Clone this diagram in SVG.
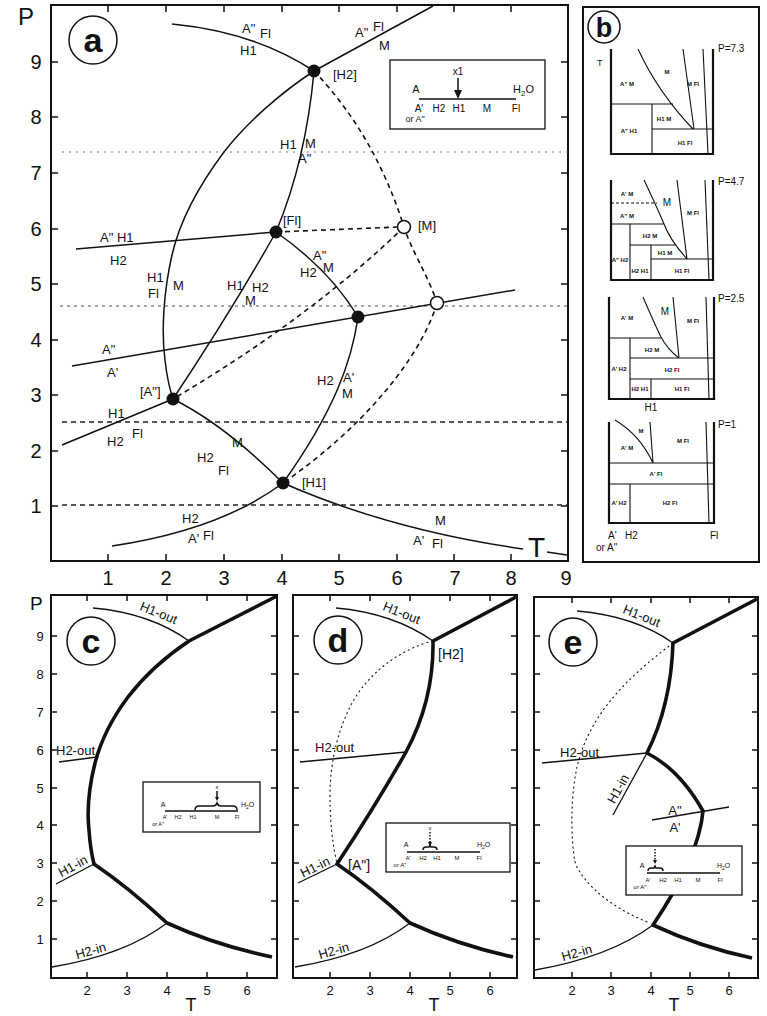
<svg xmlns="http://www.w3.org/2000/svg" width="767" height="1016" viewBox="0 0 767 1016">
<defs>
<style>
.t{font-family:"Liberation Sans",Arial,sans-serif;fill:#111}
.lb{font-size:13px}
.ax{font-size:20px}
.axs{font-size:13px}
.big{font-size:18px}
.ins{font-size:10px}
.ins6{font-size:6px}
.bs{font-size:6px;font-weight:bold}
.bp{font-size:10px}
.cl{font-size:34px;font-weight:bold;text-anchor:middle}
.mid{text-anchor:middle}
.fr{fill:none;stroke:#111;stroke-width:2}
.tk{fill:none;stroke:#111;stroke-width:1.5}
.ln{fill:none;stroke:#111;stroke-width:1.5}
.thk{fill:none;stroke:#111;stroke-width:3.6;stroke-linejoin:round}
.thn{fill:none;stroke:#111;stroke-width:1.3}
.dsh{fill:none;stroke:#111;stroke-width:1.6;stroke-dasharray:5 4}
.dot{fill:none;stroke:#111;stroke-width:1.1;stroke-dasharray:2 3}
.hd1{fill:none;stroke:#777;stroke-width:1;stroke-dasharray:2 5}
.hd2{fill:none;stroke:#555;stroke-width:1;stroke-dasharray:3 4}
.hd3{fill:none;stroke:#222;stroke-width:1.3;stroke-dasharray:5 4}
.wall{fill:none;stroke:#111;stroke-width:2.2}
.bl{fill:none;stroke:#111;stroke-width:1.1}
.box{fill:#fff;stroke:#111;stroke-width:1.3}
.pt{fill:#111}
.op{fill:#fff;stroke:#111;stroke-width:1.5}
</style>
</defs>
<rect width="767" height="1016" fill="#fff"/>

<!-- ================= PANEL A ================= -->
<g id="panel-a">
<rect class="fr" x="51" y="5" width="517" height="556"/>
<path class="tk" d="M51,506h7M51,451h7M51,395h7M51,340h7M51,284h7M51,229h7M51,173h7M51,117h7M51,62h7
M568,506h-7M568,451h-7M568,395h-7M568,340h-7M568,284h-7M568,229h-7M568,173h-7M568,117h-7M568,62h-7
M108,5v7M166,5v7M224,5v7M282,5v7M339,5v7M397,5v7M454,5v7M511,5v7
M108,561v-7M166,561v-7M224,561v-7M282,561v-7M339,561v-7M397,561v-7M454,561v-7M511,561v-7"/>
<text class="t" x="18" y="25" font-size="24">P</text>
<g class="t ax mid">
<text x="36" y="513">1</text><text x="36" y="458">2</text><text x="36" y="402">3</text><text x="36" y="347">4</text><text x="36" y="291">5</text><text x="36" y="236">6</text><text x="36" y="180">7</text><text x="36" y="124">8</text><text x="36" y="69">9</text>
<text x="108" y="585">1</text><text x="166" y="585">2</text><text x="224" y="585">3</text><text x="282" y="585">4</text><text x="339" y="585">5</text><text x="397" y="585">6</text><text x="455" y="585">7</text><text x="511" y="585">8</text><text x="566" y="585">9</text>
</g>
<circle cx="93" cy="40" r="24" fill="none" stroke="#111" stroke-width="1.5"/>
<text class="t cl" x="93" y="52">a</text>

<!-- isobars -->
<path class="hd1" d="M62,152H568"/>
<path class="hd2" d="M60,306H568"/>
<path class="hd3" d="M62,422H568"/>
<path class="hd3" d="M62,505H568"/>

<g id="connectors-a">
<path class="ln" d="M172,24 Q255,32 314,71"/>
<path class="ln" d="M314,71 L433,6"/>
<path class="ln" d="M314,71 C282,92 247,122 224,152 C200,184 180,220 172,255 C164,290 161,330 165,360 C167,378 170,390 173,399"/>
<path class="ln" d="M314,71 Q306,160 276,232"/>
<path class="ln" d="M76,249 L276,232"/>
<path class="ln" d="M276,232 Q232,310 173,399"/>
<path class="ln" d="M276,232 Q330,270 358,317"/>
<path class="ln" d="M72,366 L515,290"/>
<path class="ln" d="M358,317 C352,360 335,410 283,483"/>
<path class="ln" d="M62,445 L173,399"/>
<path class="ln" d="M173,399 Q225,425 283,483"/>
<path class="ln" d="M112,546 Q220,530 283,483"/>
<path class="ln" d="M283,483 Q390,530 523,549"/>
<path class="ln" d="M547,552 L567,555"/>
<path class="dsh" d="M314,71 Q375,135 404,227 C412,252 428,275 437,303"/>
<path class="dsh" d="M437,303 C420,360 360,430 283,483"/>
<path class="dsh" d="M276,232 L398,227"/>
<path class="dsh" d="M404,227 Q310,318 173,399"/>
</g>

<g id="nodes-a">
<g id="node-H2"><circle class="pt" cx="314" cy="71" r="6.5"/></g>
<g id="node-Fl"><circle class="pt" cx="276" cy="232" r="6.5"/></g>
<g id="node-M"><circle class="op" cx="404" cy="227" r="6.5"/></g>
<g id="node-open2"><circle class="op" cx="437" cy="303" r="6.5"/></g>
<g id="node-c"><circle class="pt" cx="358" cy="317" r="6.5"/></g>
<g id="node-A2"><circle class="pt" cx="173" cy="399" r="6.5"/></g>
<g id="node-H1"><circle class="pt" cx="283" cy="483" r="6.5"/></g>
</g>

<g class="t lb">
<text x="242" y="33">A"</text><text x="260" y="38">Fl</text>
<text x="240" y="55">H1</text>
<text x="355" y="37">A"</text><text x="373" y="31">Fl</text><text x="379" y="50">M</text>
<text x="333" y="79">[H2]</text>
<text x="280" y="149">H1</text><text x="305" y="148">M</text><text x="298" y="163">A"</text>
<text x="283" y="225">[Fl]</text>
<text x="418" y="230">[M]</text>
<text x="100" y="242">A" H1</text><text x="110" y="265">H2</text>
<text x="147" y="282">H1</text><text x="173" y="290">M</text><text x="148" y="298">Fl</text>
<text x="227" y="290">H1</text><text x="252" y="292">H2</text><text x="245" y="305">M</text>
<text x="313" y="260">A"</text><text x="323" y="272">M</text><text x="300" y="277">H2</text>
<text x="102" y="354">A"</text><text x="107" y="377">A'</text>
<text x="140" y="396">[A"]</text>
<text x="317" y="385">H2</text><text x="343" y="382">A'</text><text x="342" y="398">M</text>
<text x="108" y="418">H1</text><text x="132" y="438">Fl</text><text x="107" y="446">H2</text>
<text x="232" y="447">M</text><text x="197" y="462">H2</text><text x="218" y="475">Fl</text>
<text x="302" y="487">[H1]</text>
<text x="182" y="523">H2</text><text x="188" y="543">A'</text><text x="203" y="540">Fl</text>
<text x="435" y="525">M</text><text x="413" y="545">A'</text><text x="432" y="548">Fl</text>
</g>
<text class="t" x="528" y="557" font-size="28">T</text>

<g id="inset-a">
<rect class="box" x="390" y="60" width="155" height="69"/>
<text class="t mid" x="458" y="75" font-size="10">x1</text>
<path class="ln" d="M458,78 V92" stroke-width="1.2"/>
<polygon class="pt" points="454,90 462,90 458,99"/>
<text class="t mid" x="416" y="93" font-size="11">A</text>
<path class="ln" d="M419,99 H516" stroke-width="1.2"/>
<text class="t" x="513" y="93" font-size="11">H<tspan dy="3" font-size="8">2</tspan><tspan dy="-3">O</tspan></text>
<g class="t mid ins">
<text x="419" y="112">A'</text><text x="439" y="112">H2</text><text x="459" y="112">H1</text><text x="487" y="112">M</text><text x="516" y="112">Fl</text>
<text x="415" y="122" font-size="9">or A"</text>
</g>
</g>
</g>

<!-- ================= PANEL B ================= -->
<g id="panel-b">
<rect class="fr" x="583" y="7" width="176" height="555"/>
<circle cx="604" cy="27" r="16" fill="none" stroke="#111" stroke-width="1.5"/>
<text class="t mid" x="604" y="37" font-size="27" font-weight="bold">b</text>
<text class="t" x="597" y="66" font-size="9">T</text>

<g id="b-sub1">
<path class="wall" d="M611,49V154H713V49"/>
<path class="bl" d="M638,49 C650,75 670,105 693,129 M683,49 L694,129 M703,49 L708,154 M611,104 H673 M652,104 V154 M652,129 H713"/>
<text class="t bp" x="718" y="52">P=7.3</text>
<g class="t bs mid">
<text x="627" y="86">A" M</text><text x="667" y="74">M</text><text x="693" y="86">M Fl</text>
<text x="664" y="121">H1 M</text><text x="629" y="133">A" H1</text><text x="685" y="145">H1 Fl</text>
</g>
</g>

<g id="b-sub2">
<path class="wall" d="M611,180V280H713V180"/>
<path class="bl" d="M644,180 Q656,205 664,224 Q670,240 687,259 M677,180 L687,259 M705,180 L709,280 M611,224 H664 M630,224 V280 M630,245 H675 M651,245 V280 M651,259 H713"/>
<path class="bl" d="M611,203 H657" stroke-dasharray="3 2"/>
<text class="t bp" x="718" y="185">P=4.7</text>
<text class="t mid" x="667" y="206" font-size="10">M</text>
<g class="t bs mid">
<text x="627" y="196">A' M</text><text x="627" y="218">A" M</text><text x="693" y="215">M Fl</text>
<text x="650" y="238">H2 M</text><text x="665" y="255">H1 M</text>
<text x="620" y="262">A" H2</text><text x="640" y="273">H2 H1</text><text x="682" y="273">H1 Fl</text>
</g>
</g>

<g id="b-sub3">
<path class="wall" d="M609,297V399H714V297"/>
<path class="bl" d="M643,297 Q655,325 661,337 Q668,350 679,358 M673,297 L679,358 M706,297 L709,399 M609,338 H661 M630,338 V399 M630,358 H714 M630,379 H714 M651,379 V399"/>
<text class="t bp" x="718" y="302">P=2.5</text>
<text class="t mid" x="665" y="315" font-size="10">M</text>
<g class="t bs mid">
<text x="627" y="320">A' M</text><text x="693" y="323">M Fl</text>
<text x="652" y="352">H2 M</text><text x="619" y="371">A' H2</text><text x="672" y="372">H2 Fl</text>
<text x="640" y="391">H2 H1</text><text x="682" y="391">H1 Fl</text>
</g>
<text class="t mid" x="651" y="411" font-size="10">H1</text>
</g>

<g id="b-sub4">
<path class="wall" d="M609,422V523H714V422"/>
<path class="bl" d="M615,420 Q640,435 653,463 M650,422 L653,463 M706,422 L709,523 M609,463 H714 M609,484 H714 M630,484 V523"/>
<text class="t bp" x="718" y="428">P=1</text>
<g class="t bs mid">
<text x="641" y="433">M</text><text x="627" y="450">A' M</text><text x="683" y="443">M Fl</text>
<text x="656" y="476">A' Fl</text><text x="619" y="505">A' H2</text><text x="670" y="505">H2 Fl</text>
</g>
<g class="t" font-size="10">
<text x="608" y="539">A'</text><text x="625" y="539">H2</text><text x="710" y="539">Fl</text>
<text x="596" y="551">or A"</text>
</g>
</g>
</g>

<!-- ================= PANEL C ================= -->
<g id="panel-c">
<rect class="fr" x="51" y="595" width="226" height="383"/>
<path class="tk" d="M51,939h6M51,901h6M51,863h6M51,825h6M51,788h6M51,750h6M51,712h6M51,674h6M51,636h6
M277,939h-6M277,901h-6M277,863h-6M277,825h-6M277,788h-6M277,750h-6M277,712h-6M277,674h-6M277,636h-6
M87,595v6M127,595v6M167,595v6M207,595v6M247,595v6M87,978v-6M127,978v-6M167,978v-6M207,978v-6M247,978v-6"/>
<text class="t" x="30" y="610" font-size="19">P</text>
<g class="t axs mid">
<text x="40" y="944">1</text><text x="40" y="906">2</text><text x="40" y="868">3</text><text x="40" y="830">4</text><text x="40" y="793">5</text><text x="40" y="755">6</text><text x="40" y="717">7</text><text x="40" y="679">8</text><text x="40" y="641">9</text>
<text x="87" y="995">2</text><text x="127" y="995">3</text><text x="167" y="995">4</text><text x="207" y="995">5</text><text x="247" y="995">6</text>
</g>
<text class="t big mid" x="191" y="1011">T</text>
<circle cx="91" cy="641" r="24" fill="none" stroke="#111" stroke-width="1.5"/>
<text class="t cl" x="91" y="653">c</text>
<g id="connectors-c">
<path class="thk" d="M277,596 L189,641 C168,655 145,675 128,697 C113,717 101,740 95,763 C89,787 87,812 89,830 C90,845 92,856 94,864 Q128,887 167,923 Q215,945 272,957"/>
<path class="thn" d="M93,608 Q150,613 189,641"/>
<path class="thn" d="M59,762 L97,757"/>
<path class="thn" d="M56,884 L94,864"/>
<path class="thn" d="M52,967 Q125,955 167,923"/>
</g>
<g class="t lb">
<text class="mid" transform="translate(157,617) rotate(22)">H1-out</text>
<text x="56" y="755">H2-out</text>
<text class="mid" transform="translate(75,870) rotate(-28)">H1-in</text>
<text class="mid" transform="translate(92,955) rotate(-16)">H2-in</text>
</g>
<g id="inset-c">
<rect class="box" x="143" y="782" width="117" height="50"/>
<text class="t mid ins6" x="217" y="789">x</text>
<path class="ln" d="M217,791 V798" stroke-width="0.9"/>
<polygon class="pt" points="215,797 219,797 217,801"/>
<path class="ln" stroke-width="0.8" d="M195,810 Q195,806 199,806 L213,806 Q216,806 217,803 Q218,806 221,806 L233,806 Q237,806 237,810"/>
<text class="t mid" x="163" y="807" font-size="7">A</text>
<path class="ln" d="M165,811 H238" stroke-width="1"/>
<text class="t" x="241" y="807" font-size="7">H<tspan dy="2" font-size="5">2</tspan><tspan dy="-2">O</tspan></text>
<g class="t mid" font-size="5.5">
<text x="165" y="819">A'</text><text x="178" y="819">H2</text><text x="193" y="819">H1</text><text x="217" y="819">M</text><text x="237" y="819">Fl</text>
<text x="158" y="826">or A"</text>
</g>
</g>
</g>

<!-- ================= PANEL D ================= -->
<g id="panel-d">
<rect class="fr" x="293" y="595" width="224" height="383"/>
<path class="tk" d="M293,939h6M293,901h6M293,863h6M293,825h6M293,788h6M293,750h6M293,712h6M293,674h6M293,636h6
M517,939h-6M517,901h-6M517,863h-6M517,825h-6M517,788h-6M517,750h-6M517,712h-6M517,674h-6M517,636h-6
M330,595v6M370,595v6M410,595v6M450,595v6M490,595v6M330,978v-6M370,978v-6M410,978v-6M450,978v-6M490,978v-6"/>
<g class="t axs mid">
<text x="330" y="995">2</text><text x="370" y="995">3</text><text x="410" y="995">4</text><text x="450" y="995">5</text><text x="490" y="995">6</text>
</g>
<text class="t big mid" x="434" y="1011">T</text>
<circle cx="338" cy="640" r="24" fill="none" stroke="#111" stroke-width="1.5"/>
<text class="t cl" x="338" y="652">d</text>
<g id="connectors-d">
<path class="dot" d="M433,641 C403,648 368,672 351,705 C339,728 330,760 330,795 C330,830 334,850 337,864"/>
<path class="thk" d="M516,597 L433,641 Q434,700 406,752 Q376,805 337,864 Q371,887 410,923 Q458,945 513,957"/>
<path class="thn" d="M336,608 Q393,613 433,641"/>
<path class="thn" d="M300,762 L406,752"/>
<path class="thn" d="M298,883 L337,864"/>
<path class="thn" d="M295,967 Q368,955 410,923"/>
</g>
<g class="t lb">
<text class="mid" transform="translate(400,617) rotate(22)">H1-out</text>
<text x="315" y="752">H2-out</text>
<text class="mid" transform="translate(317,871) rotate(-26)">H1-in</text>
<text class="mid" transform="translate(335,955) rotate(-16)">H2-in</text>
<text x="438" y="659" font-size="14">[H2]</text>
<text x="348" y="870" font-size="14">[A"]</text>
</g>
<g id="inset-d">
<rect class="box" x="386" y="823" width="124" height="49"/>
<text class="t mid ins6" x="430" y="830">x</text>
<path class="ln" d="M430,832 V843" stroke-width="0.9" stroke-dasharray="1.5 1.5"/>
<polygon class="pt" points="428,842 432,842 430,846"/>
<path class="ln" stroke-width="0.8" d="M423,850 Q423,847 426,847 L429,847 L430,845 L431,847 L434,847 Q437,847 437,850"/>
<text class="t mid" x="406" y="847" font-size="7">A</text>
<path class="ln" d="M407,852 H480" stroke-width="1"/>
<text class="t" x="477" y="847" font-size="7">H<tspan dy="2" font-size="5">2</tspan><tspan dy="-2">O</tspan></text>
<g class="t mid ins6">
<text x="408" y="860">A'</text><text x="423" y="860">H2</text><text x="437" y="860">H1</text><text x="457" y="860">M</text><text x="479" y="860">Fl</text>
<text x="400" y="867">or A"</text>
</g>
</g>
</g>

<!-- ================= PANEL E ================= -->
<g id="panel-e">
<rect class="fr" x="534" y="597" width="224" height="381"/>
<path class="tk" d="M534,939h6M534,901h6M534,863h6M534,825h6M534,788h6M534,750h6M534,712h6M534,674h6M534,636h6
M758,939h-6M758,901h-6M758,863h-6M758,825h-6M758,788h-6M758,750h-6M758,712h-6M758,674h-6M758,636h-6
M572,597v6M611,597v6M651,597v6M690,597v6M729,597v6M572,978v-6M611,978v-6M651,978v-6M690,978v-6M729,978v-6"/>
<g class="t axs mid">
<text x="572" y="995">2</text><text x="611" y="995">3</text><text x="651" y="995">4</text><text x="690" y="995">5</text><text x="729" y="995">6</text>
</g>
<text class="t big mid" x="674" y="1011">T</text>
<circle cx="573" cy="642" r="24" fill="none" stroke="#111" stroke-width="1.5"/>
<text class="t cl" x="573" y="654">e</text>
<g id="connectors-e">
<path class="dot" d="M673,643 C635,672 590,710 577,767 C570,800 571,840 575,862 C583,885 615,910 650,923"/>
<path class="thk" d="M757,599 L673,643 Q671,705 647,753 Q680,770 703,811 C700,845 680,885 653,925 Q700,947 752,958"/>
<path class="thn" d="M577,611 Q635,616 673,643"/>
<path class="thn" d="M542,763 L647,753"/>
<path class="thn" d="M647,753 L613,815"/>
<path class="thn" d="M535,970 Q610,957 653,925"/>
<path class="thn" d="M652,820 L729,807"/>
</g>
<g class="t lb">
<text class="mid" transform="translate(640,620) rotate(22)">H1-out</text>
<text x="560" y="757">H2-out</text>
<text class="mid" transform="translate(622,791) rotate(-61)">H1-in</text>
<text class="mid" transform="translate(578,957) rotate(-16)">H2-in</text>
<text class="mid" x="675" y="815">A"</text>
<text class="mid" x="675" y="832">A'</text>
</g>
<g id="inset-e">
<rect class="box" x="626" y="846" width="116" height="49"/>
<path class="ln" d="M655,849 V861" stroke-width="0.9" stroke-dasharray="1.5 1.5"/>
<polygon class="pt" points="653,860 657,860 655,864"/>
<path class="ln" stroke-width="0.8" d="M648,871 Q648,868 651,868 L654,868 L655,866 L656,868 L660,868 Q663,868 663,871"/>
<text class="t mid" x="642" y="868" font-size="7">A</text>
<path class="ln" d="M647,873 H720" stroke-width="1"/>
<text class="t" x="717" y="868" font-size="7">H<tspan dy="2" font-size="5">2</tspan><tspan dy="-2">O</tspan></text>
<g class="t mid ins6">
<text x="648" y="882">A'</text><text x="663" y="882">H2</text><text x="678" y="882">H1</text><text x="698" y="882">M</text><text x="720" y="882">Fl</text>
<text x="640" y="889">or A"</text>
</g>
</g>
</g>
</svg>
